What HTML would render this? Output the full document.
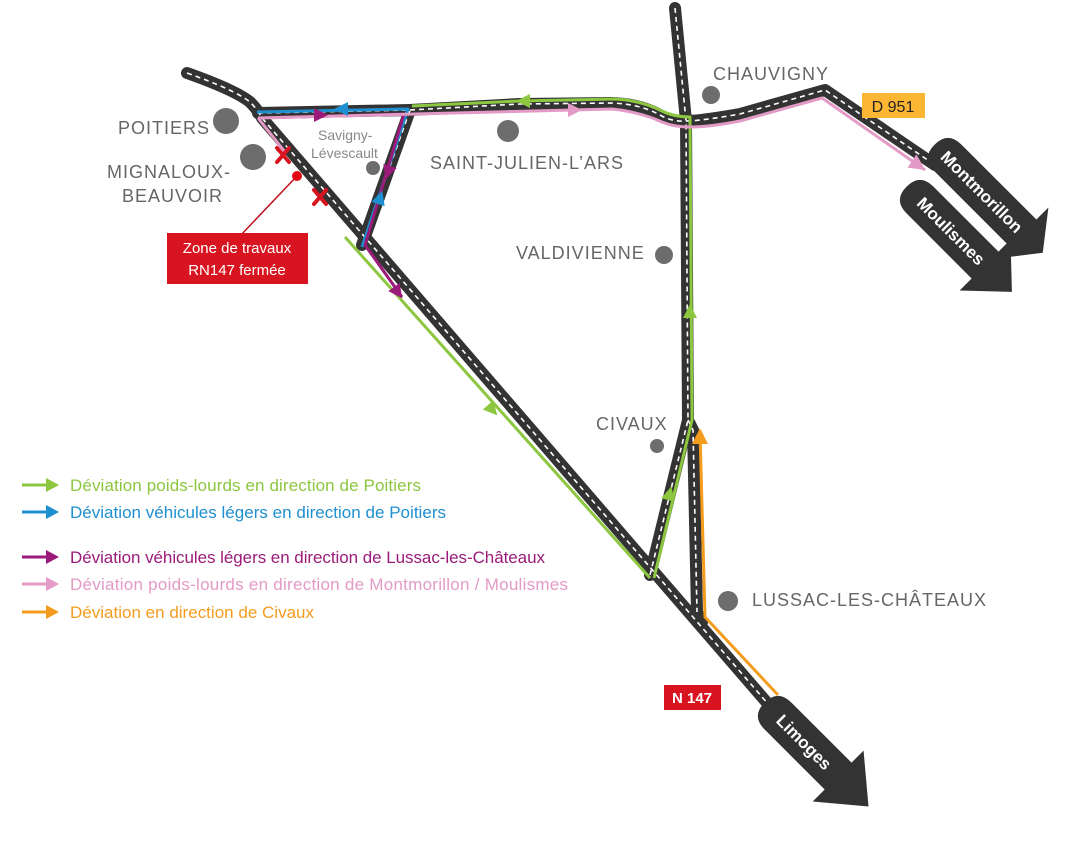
<!DOCTYPE html>
<html><head><meta charset="utf-8"><style>
html,body{margin:0;padding:0;background:#fff;}
svg{display:block;font-family:"Liberation Sans",sans-serif;}
.road{fill:none;stroke:#333;stroke-width:12;stroke-linejoin:round;stroke-linecap:round}
.dash{fill:none;stroke:#fff;stroke-width:1.6;stroke-dasharray:5 4}
.lbl{fill:#666;font-size:18px;letter-spacing:1px}
</style></head><body>
<svg width="1075" height="862" viewBox="0 0 1075 862">
<g>
<path class="road" d="M187 73 Q235 90 250 102 Q258 110 262 118 L775 712"/>
<path class="road" d="M258 113 L410 110 L362 245"/>
<path class="road" d="M410 110 L520 104 L612 103 Q640 104 660 115 Q672 122 686 121 Q700 121 740 114 L825 90 L935 165"/>
<path class="road" d="M675 8 L686 121 L688 420 L650 575"/>
<path class="road" d="M688 420 L693 430 L697 612 L702 622"/>
<path class="dash" d="M187 73 Q235 90 250 102 Q258 110 262 118 L775 712"/>
<path class="dash" d="M258 113 L410 110 L362 245"/>
<path class="dash" d="M410 110 L520 104 L612 103 Q640 104 660 115 Q672 122 686 121 Q700 121 740 114 L825 90 L935 165"/>
<path class="dash" d="M675 8 L686 121 L688 420 L650 575"/>
<path class="dash" d="M688 420 L693 430 L697 612"/>
</g>
<g fill="none" stroke-width="3" stroke-linejoin="round">
<path stroke="#8dc63f" d="M650 578 L345 237"/>
<path stroke="#8dc63f" d="M412 106 L520 101 L614 99 Q640 100 662 111 Q674 117 690 117 L692 420 L654 578"/>
<path stroke="#1e8fcf" d="M362 247 L408 109 L257 112"/>
<path stroke="#9b1b7a" d="M258 118 L404 114 L365 245 L402 297"/>
<path stroke="#e39ac6" d="M258 118 L612 109 Q640 112 662 122 Q674 127 690 127 Q710 127 740 121 L822 98 L925 170"/>
<path stroke="#e39ac6" d="M258 118 L285 152"/>
<path stroke="#f39c1e" d="M778 695 L705 617 L700 432"/>
</g>
<g>
<polygon fill="#8dc63f" points="0,-7 14,0 0,7" transform="translate(488,405) rotate(48)"/>
<polygon fill="#8dc63f" points="0,-7 14,0 0,7" transform="translate(530,101) rotate(180)"/>
<polygon fill="#8dc63f" points="0,-7 14,0 0,7" transform="translate(690,318) rotate(-90)"/>
<polygon fill="#8dc63f" points="0,-7 14,0 0,7" transform="translate(668,500) rotate(-76)"/>
<polygon fill="#1e8fcf" points="0,-7 14,0 0,7" transform="translate(348,109) rotate(180)"/>
<polygon fill="#1e8fcf" points="0,-7 14,0 0,7" transform="translate(378,204) rotate(-72)"/>
<polygon fill="#9b1b7a" points="0,-7 14,0 0,7" transform="translate(314,115) rotate(0)"/>
<polygon fill="#9b1b7a" points="0,-7 14,0 0,7" transform="translate(390,166) rotate(108)"/>
<polygon fill="#9b1b7a" points="0,-7 14,0 0,7" transform="translate(394,287) rotate(54)"/>
<polygon fill="#e39ac6" points="0,-7 14,0 0,7" transform="translate(568,110) rotate(0)"/>
<polygon fill="#e39ac6" points="0,-8 16,0 0,8" transform="translate(912,161) rotate(34)"/>
<polygon fill="#f39c1e" points="0,-8 16,0 0,8" transform="translate(700,444) rotate(-90)"/>
</g>
<g fill="#333">
<g transform="translate(920,200) rotate(45)">
<path d="M0 -19 L92 -19 L92 -36 L130 0 L92 36 L92 19 L0 19 Q-19 19 -19 0 Q-19 -19 0 -19Z"/>
<text x="0" y="6" fill="#fff" font-size="17" font-weight="bold">Moulismes</text>
</g>
<g transform="translate(948,158) rotate(45)">
<path d="M0 -19 L106 -19 L106 -36 L134 0 L106 36 L106 19 L0 19 Q-19 19 -19 0 Q-19 -19 0 -19Z"/>
<text x="-6" y="6" fill="#fff" font-size="17" font-weight="bold">Montmorillon</text>
</g>
<g transform="translate(778,716) rotate(45)">
<path d="M0 -19 L85 -19 L85 -36 L128 0 L85 36 L85 19 L0 19 Q-19 19 -19 0 Q-19 -19 0 -19Z"/>
<text x="2" y="6" fill="#fff" font-size="17" font-weight="bold">Limoges</text>
</g>
</g>
<g stroke="#d7141f" stroke-width="4" stroke-linecap="round">
<path d="M277 148 L289 162 M289 148 L277 162"/>
<path d="M314 190 L326 204 M326 190 L314 204"/>
</g>
<line x1="297" y1="176" x2="240" y2="236" stroke="#c0121c" stroke-width="1.5"/>
<circle cx="297" cy="176" r="5" fill="#e30613"/>
<rect x="167" y="233" width="141" height="51" fill="#d7141f"/>
<text x="237" y="253" fill="#fff" font-size="15" text-anchor="middle">Zone de travaux</text>
<text x="237" y="275" fill="#fff" font-size="15" text-anchor="middle">RN147 fermée</text>
<g fill="#6d6d6d">
<circle cx="226" cy="121" r="13"/><circle cx="253" cy="157" r="13"/>
<circle cx="373" cy="168" r="7"/><circle cx="508" cy="131" r="11"/>
<circle cx="711" cy="95" r="9"/><circle cx="664" cy="255" r="9"/>
<circle cx="657" cy="446" r="7"/><circle cx="728" cy="601" r="10"/>
</g>
<text class="lbl" x="118" y="134">POITIERS</text>
<text class="lbl" x="107" y="178">MIGNALOUX-</text>
<text class="lbl" x="122" y="202">BEAUVOIR</text>
<text x="318" y="140" fill="#888" font-size="14">Savigny-</text>
<text x="311" y="158" fill="#888" font-size="14">Lévescault</text>
<text class="lbl" x="430" y="169">SAINT-JULIEN-L’ARS</text>
<text class="lbl" x="713" y="80">CHAUVIGNY</text>
<text class="lbl" x="516" y="259">VALDIVIENNE</text>
<text class="lbl" x="596" y="430">CIVAUX</text>
<text class="lbl" x="752" y="606">LUSSAC-LES-CHÂTEAUX</text>
<rect x="862" y="93" width="63" height="25" fill="#fbb733"/>
<text x="893" y="112" font-size="16" text-anchor="middle" fill="#222">D 951</text>
<rect x="664" y="685" width="57" height="25" fill="#d7141f"/>
<text x="692" y="703" font-size="15" font-weight="bold" text-anchor="middle" fill="#fff">N 147</text>
<g font-size="17">
<line x1="22" y1="485" x2="48" y2="485" stroke="#8dc63f" stroke-width="3"/><polygon fill="#8dc63f" points="46,478 59,485 46,492"/>
<text x="70" y="491" fill="#8dc63f" textLength="351">Déviation poids-lourds en direction de Poitiers</text>
<line x1="22" y1="512" x2="48" y2="512" stroke="#1e8fcf" stroke-width="3"/><polygon fill="#1e8fcf" points="46,505 59,512 46,519"/>
<text x="70" y="518" fill="#1e8fcf" textLength="376">Déviation véhicules légers en direction de Poitiers</text>
<line x1="22" y1="557" x2="48" y2="557" stroke="#9b1b7a" stroke-width="3"/><polygon fill="#9b1b7a" points="46,550 59,557 46,564"/>
<text x="70" y="563" fill="#9b1b7a" textLength="475">Déviation véhicules légers en direction de Lussac-les-Châteaux</text>
<line x1="22" y1="584" x2="48" y2="584" stroke="#e39ac6" stroke-width="3"/><polygon fill="#e39ac6" points="46,577 59,584 46,591"/>
<text x="70" y="590" fill="#e39ac6" textLength="498">Déviation poids-lourds en direction de Montmorillon / Moulismes</text>
<line x1="22" y1="612" x2="48" y2="612" stroke="#f39c1e" stroke-width="3"/><polygon fill="#f39c1e" points="46,605 59,612 46,619"/>
<text x="70" y="618" fill="#f39c1e" textLength="244">Déviation en direction de Civaux</text>
</g>
</svg>
</body></html>
